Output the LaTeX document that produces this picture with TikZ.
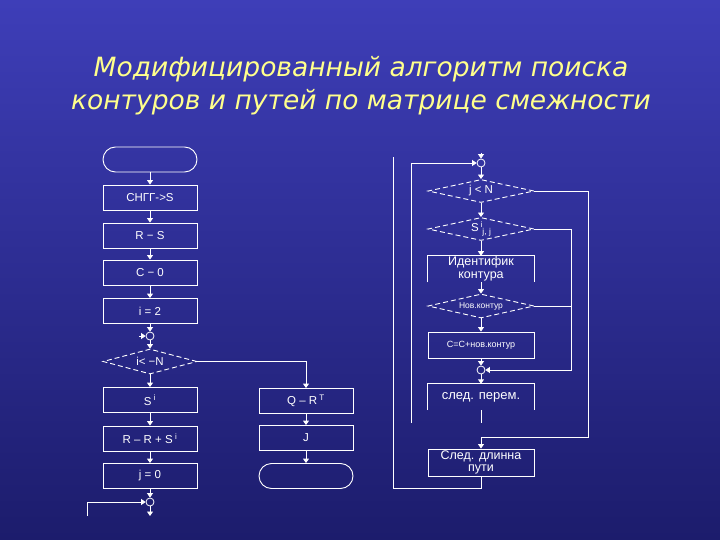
\documentclass[tikz,border=0pt]{standalone}
\usepackage{fontspec}
\setmainfont{Liberation Sans}
\newfontfamily\titlefont{DejaVu Sans}
\usetikzlibrary{shapes.geometric,arrows.meta}
\definecolor{bgtop}{RGB}{62,62,184}
\definecolor{bgbot}{RGB}{28,28,108}
\definecolor{titleyellow}{RGB}{255,255,140}
\tikzset{
  ln/.style={draw=white,line width=0.9pt},
  arr/.style={ln,-{Triangle[length=4.5pt,width=6pt]}},
  box/.style={draw=white,line width=0.9pt,rectangle,minimum width=94pt,minimum height=25pt,inner sep=1pt,text=white,font=\fontsize{11.5}{13}\selectfont},
  rbox/.style={box,minimum width=106pt,minimum height=26pt},
  openbox/.style={rectangle,minimum width=106pt,minimum height=26pt,inner sep=1pt,text=white},
  term/.style={box,rounded corners=12.5pt},
  dia/.style={draw=white,line width=0.9pt,dash pattern=on 5pt off 3pt,diamond,shape aspect=5,inner sep=0pt,text=white,font=\fontsize{11.5}{13}\selectfont},
  junc/.style={draw=white,line width=0.8pt,circle,minimum size=8pt,inner sep=0pt},
  ttl/.style={text=titleyellow,font=\titlefont\itshape\fontsize{26.5}{30}\selectfont,anchor=base}
}
\begin{document}
\begin{tikzpicture}[x=1pt,y=-1pt]
\shade[top color=bgtop,bottom color=bgbot] (0,0) rectangle (720,540);
\useasboundingbox (0,0) rectangle (720,540);
% title
\node[ttl] (t1) at (361,77) {Модифицированный алгоритм поиска};
\node[ttl] (t2) at (361,110) {контуров и путей по матрице смежности};
% left column
\node[term] (start) at (150,159.5) {};
\node[box] (b1) at (150,197.5) {СНГГ->S};
\node[box] (b2) at (150,235.5) {R − S};
\node[box] (b3) at (150,272.5) {C − 0};
\node[box] (b4) at (150,311) {i = 2};
\node[junc] (c1) at (150,336) {};
\node[dia,minimum width=94pt,minimum height=25pt] (d1) at (150,361.5) {i< −N};
\node[box] (b5) at (150,400) {S\textsuperscript{ i}};
\node[box] (b6) at (150,438.5) {R – R + S\textsuperscript{ i}};
\node[box] (b7) at (150,476) {j = 0};
\node[junc] (c2) at (150,502) {};
\coordinate (c2out) at (150,516);
\coordinate (c1in) at (139,336);
\coordinate (c2l) at (87,516);
\draw[arr] (start) -- (b1);
\draw[arr] (b1) -- (b2);
\draw[arr] (b2) -- (b3);
\draw[arr] (b3) -- (b4);
\draw[arr] (b4) -- (c1);
\draw[arr] (c1in) -- (c1);
\draw[arr] (c1) -- (d1);
\draw[arr] (d1) -- (b5);
\draw[arr] (b5) -- (b6);
\draw[arr] (b6) -- (b7);
\draw[arr] (b7) -- (c2);
\draw[arr] (c2) -- (c2out);
\draw[arr] (c2l) |- (c2);
% middle column
\node[box] (q) at (306,401) {Q – R\textsuperscript{ T}};
\node[box] (jb) at (306,438) {J};
\node[term] (fin) at (306,476) {};
\draw[arr] (d1.east) -| (q.north);
\draw[arr] (q) -- (jb);
\draw[arr] (jb) -- (fin);
% right column
\node[junc] (c3) at (481,163) {};
\coordinate (c3in) at (481,153);
\node[dia,minimum width=106pt,minimum height=23pt] (d2) at (481,191) {j < N};
\node[dia,minimum width=106pt,minimum height=23pt] (d3) at (481,229) {S\rlap{\textsuperscript{ i}}\raisebox{-3pt}{\fontsize{8.5}{9}\selectfont\ \,j, j}};
\node[openbox,font=\fontsize{12.5}{12.5}\selectfont,align=center] (b8) at (481,269) {Идентифик\\контура};
\draw[ln] (b8.south west) |- (b8.north east) -- (b8.south east);
\node[dia,minimum width=106pt,minimum height=24pt,font=\fontsize{8.5}{10}\selectfont] (d4) at (481,306) {Нов.контур};
\node[rbox,font=\fontsize{9}{10}\selectfont] (b9) at (481,345) {C=C+нов.контур};
\node[junc] (c4) at (481,370) {};
\node[openbox,font=\fontsize{13}{13}\selectfont] (b10) at (481,397) {след. перем.};
\draw[ln] (b10.south west) |- (b10.north east) -- (b10.south east);
\node[rbox,font=\fontsize{12.5}{12.5}\selectfont,align=center,minimum height=27pt] (b11) at (481,462.5) {След. длинна\\пути};
\coordinate (b10end) at (481,423);
\coordinate (loopA) at (411,423);
\coordinate (loopB) at (393,157);
\coordinate (rA) at (588,437);
\coordinate (rB) at (571,306);
\draw[arr] (c3in) -- (c3);
\draw[arr] (c3) -- (d2);
\draw[arr] (d2) -- (d3);
\draw[arr] (d3) -- (b8);
\draw[arr] (b8) -- (d4);
\draw[arr] (d4) -- (b9);
\draw[arr] (b9) -- (c4);
\draw[arr] (c4) -- (b10);
\draw[ln] (b10) -- (b10end);
\draw[arr] (loopA) |- (c3);
\draw[arr] (d2.east) -| (rA) -| (b11.north);
\draw[arr] (d3.east) -| (571,370) -- (c4);
\draw[ln] (d4.east) -- (rB);
\draw[ln] (b11.south) -- (481,488) -| (loopB);
\end{tikzpicture}
\end{document}
